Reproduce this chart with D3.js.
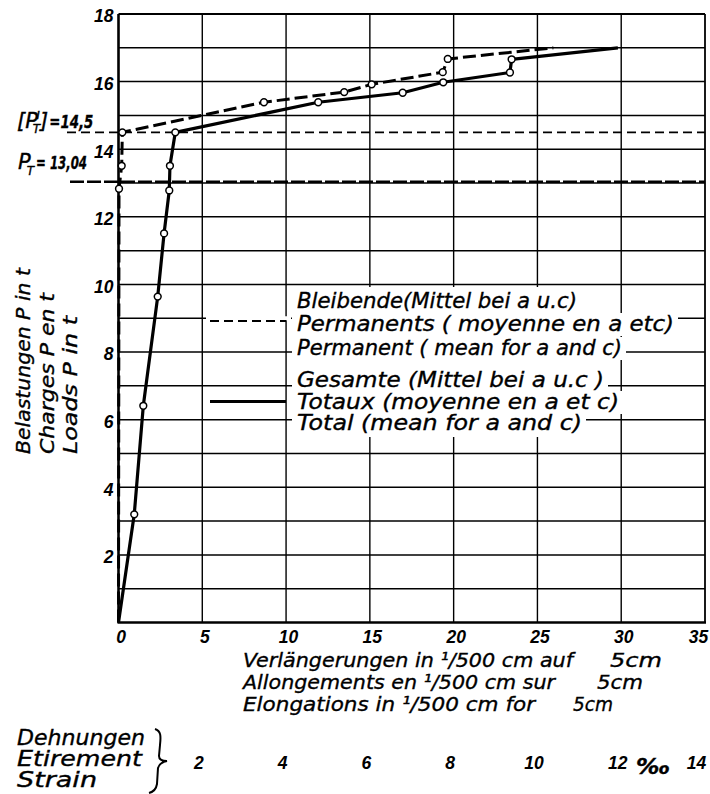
<!DOCTYPE html>
<html>
<head>
<meta charset="utf-8">
<script src="https://cdn.jsdelivr.net/npm/d3@7"></script>
<style>
  body { margin: 0; background: #fff; }
  svg { display: block; }
  .lbl { font-family: "DejaVu Sans", sans-serif; font-style: italic; fill: #000; stroke: #000; stroke-width: 0.35px; }
</style>
</head>
<body>
<script>
//chart values
var xTicks = [0, 5, 10, 15, 20, 25, 30, 35];
var yTicks = [2, 4, 6, 8, 10, 12, 14, 16, 18];
var yGrid = d3.range(1, 18);
var strainTicks = [2, 4, 6, 8, 10, 12, 14];

//total elongations (solid)
var totalX = [0, 0.94, 1.48, 2.34, 2.72, 3.03, 3.07, 3.39, 11.92, 16.96, 19.38, 23.36, 23.46, 29.8];
var totalP = [0, 3.2, 6.41, 9.64, 11.51, 12.78, 13.51, 14.5, 15.39, 15.67, 15.98, 16.27, 16.66, 17.0];

//permanent elongations (dashed)
var permX = [0, 0.03, 0.19, 0.23, 8.68, 13.47, 15.11, 19.35, 19.65, 25.95];
var permP = [0, 12.83, 13.51, 14.5, 15.39, 15.69, 15.92, 16.28, 16.67, 17.0];

//reference loads
var limitP = [14.5, 13.04];

var legendLines = [
    "Bleibende(Mittel bei a u.c)",
    "Permanents ( moyenne  en a etc)",
    "Permanent ( mean for a and c)",
    "Gesamte (Mittel bei a u.c )",
    "Totaux (moyenne en a et c)",
    "Total (mean for a and c)"
];
var xTitleLines = [
    "Verlängerungen in ¹/500 cm auf",
    "Allongements en ¹/500 cm sur",
    "Elongations in ¹/500 cm for"
];
var yTitleLines = ["Belastungen P in t", "Charges P en t", "Loads P in t"];
var strainTitleLines = ["Dehnungen", "Etirement", "Strain"];

window.onload = drawChart();

//bold italic numerals like the drawing
function styleTicks(sel){
    sel.style("font-family", "'Liberation Sans', sans-serif")
        .style("font-weight", "bold")
        .style("font-style", "italic")
        .style("font-size", "17.5px")
        .style("fill", "#000");
}

function drawChart(){
    var width = 710,
        height = 794;

    var svg = d3.select("body")
        .append("svg")
        .attr("width", width)
        .attr("height", height);

    var x = d3.scaleLinear().domain([0, 35]).range([118.5, 705]);
    var y = d3.scaleLinear().domain([0, 18]).range([622.5, 14]);

    //grid lines
    svg.selectAll(".hgrid")
        .data(yGrid)
        .enter()
        .append("line")
        .attr("x1", x(0)).attr("x2", x(35))
        .attr("y1", function(d){ return y(d); })
        .attr("y2", function(d){ return y(d); })
        .attr("stroke", "#000").attr("stroke-width", 1.5);

    svg.selectAll(".vgrid")
        .data(xTicks.slice(1, -1))
        .enter()
        .append("line")
        .attr("y1", y(0)).attr("y2", y(18))
        .attr("x1", function(d){ return x(d); })
        .attr("x2", function(d){ return x(d); })
        .attr("stroke", "#000").attr("stroke-width", 1.4);

    //reference loads, dashed
    svg.append("line")
        .attr("x1", 67).attr("x2", x(35))
        .attr("y1", y(limitP[0])).attr("y2", y(limitP[0]))
        .attr("stroke", "#000").attr("stroke-width", 1.8)
        .attr("stroke-dasharray", "9,5");
    svg.append("line")
        .attr("x1", 70).attr("x2", x(35))
        .attr("y1", y(limitP[1])).attr("y2", y(limitP[1]))
        .attr("stroke", "#000").attr("stroke-width", 2.6)
        .attr("stroke-dasharray", "14,3");

    //legend: white patches hide the grid behind the words
    svg.append("rect").attr("x", 292).attr("y", 287).attr("width", 256).attr("height", 150).attr("fill", "#fff");
    var rowBase = [308, 331, 355, 387, 409, 430];
    var rowLen = [280, 377, 325, 307, 322, 285];
    svg.selectAll(".legbg")
        .data(legendLines)
        .enter()
        .append("rect")
        .attr("x", 292)
        .attr("y", function(d, i){ return rowBase[i] - 18; })
        .attr("width", function(d, i){ return rowLen[i] + 9; })
        .attr("height", function(d, i){ return i == 0 || i == 3 ? 24 : 23; })
        .attr("fill", "#fff");
    svg.selectAll(".legtext")
        .data(legendLines)
        .enter()
        .append("text")
        .attr("class", "lbl")
        .attr("x", 297)
        .attr("y", function(d, i){ return rowBase[i]; })
        .attr("font-size", 20.5)
        .attr("textLength", function(d, i){ return rowLen[i]; })
        .attr("lengthAdjust", "spacingAndGlyphs")
        .text(function(d){ return d; });

    //legend samples
    svg.append("line").attr("x1", 206).attr("x2", 291).attr("y1", y(9)).attr("y2", y(9))
        .attr("stroke", "#fff").attr("stroke-width", 4);
    svg.append("line").attr("x1", 210).attr("x2", 286).attr("y1", 321).attr("y2", 321)
        .attr("stroke", "#000").attr("stroke-width", 2.2).attr("stroke-dasharray", "9,5");
    svg.append("line").attr("x1", 210).attr("x2", 286).attr("y1", 401.5).attr("y2", 401.5)
        .attr("stroke", "#000").attr("stroke-width", 3);

    //curves
    var line = d3.line()
        .x(function(d){ return x(d[0]); })
        .y(function(d){ return y(d[1]); });

    var total = d3.zip(totalX, totalP),
        perm = d3.zip(permX, permP);

    svg.append("path")
        .datum(perm)
        .attr("d", line)
        .attr("fill", "none").attr("stroke", "#000").attr("stroke-width", 3)
        .attr("stroke-dasharray", "13,5");
    svg.append("path")
        .datum(total)
        .attr("d", line)
        .attr("fill", "none").attr("stroke", "#000").attr("stroke-width", 3.2)
        .attr("stroke-linejoin", "round");

    //frame
    svg.append("line").attr("x1", x(0)).attr("x2", x(35)).attr("y1", y(18)).attr("y2", y(18))
        .attr("stroke", "#000").attr("stroke-width", 2.2);
    svg.append("line").attr("x1", x(35)).attr("x2", x(35)).attr("y1", y(18)).attr("y2", y(0))
        .attr("stroke", "#000").attr("stroke-width", 1.8);
    svg.append("line").attr("x1", x(0)).attr("x2", x(0)).attr("y1", y(18)).attr("y2", y(0))
        .attr("stroke", "#000").attr("stroke-width", 2.6);
    svg.append("line").attr("x1", x(0) - 1).attr("x2", x(35) + 1).attr("y1", y(0)).attr("y2", y(0))
        .attr("stroke", "#000").attr("stroke-width", 2.6);

    //measured points
    var marks = total.slice(1, -1).concat(perm.slice(1, -1));
    svg.selectAll(".pt")
        .data(marks)
        .enter()
        .append("circle")
        .attr("cx", function(d){ return x(d[0]); })
        .attr("cy", function(d){ return y(d[1]); })
        .attr("r", 3.4)
        .attr("fill", "#fff").attr("stroke", "#000").attr("stroke-width", 1.5);

    //axes (labels only)
    svg.append("g")
        .attr("transform", "translate(" + x(0) + ",0)")
        .call(d3.axisLeft(y).tickValues(yTicks).tickSize(0).tickPadding(5).tickFormat(d3.format("d")))
        .call(function(g){ g.select(".domain").remove(); })
        .selectAll("text").attr("dy", "0.45em").call(styleTicks);

    svg.append("g")
        .attr("transform", "translate(2," + y(0) + ")")
        .call(d3.axisBottom(x).tickValues(xTicks).tickSize(0).tickPadding(8).tickFormat(d3.format("d")))
        .call(function(g){ g.select(".domain").remove(); })
        .selectAll("text").call(styleTicks)
        .filter(function(d){ return d == 35; }).attr("dx", -9);

    //strain scale: 1/500 cm on 5 cm = 0.4 per mille
    svg.append("g")
        .attr("transform", "translate(-4,757)")
        .call(d3.axisBottom(x.copy().domain([0, 14])).tickValues(strainTicks).tickSize(0).tickPadding(0).tickFormat(d3.format("d")))
        .call(function(g){ g.select(".domain").remove(); })
        .selectAll("text").call(styleTicks)
        .filter(function(d){ return d == 14; }).attr("dx", -5);
    svg.append("text").attr("class", "lbl")
        .attr("x", 636).attr("y", 774).attr("font-size", 21).attr("font-weight", "bold")
        .attr("textLength", 34).attr("lengthAdjust", "spacingAndGlyphs")
        .text("‰");

    //axis titles
    svg.selectAll(".ytitle")
        .data(yTitleLines)
        .enter()
        .append("text")
        .attr("class", "lbl")
        .attr("font-size", 19.5)
        .attr("transform", function(d, i){ return "translate(" + (30 + i * 23.5) + ",454) rotate(-90)"; })
        .attr("textLength", function(d, i){ return [186, 161, 138][i]; })
        .attr("lengthAdjust", "spacingAndGlyphs")
        .text(function(d){ return d; });

    svg.selectAll(".xtitle")
        .data(xTitleLines)
        .enter()
        .append("text")
        .attr("class", "lbl")
        .attr("x", 243)
        .attr("y", function(d, i){ return 667 + i * 22; })
        .attr("font-size", 20)
        .attr("textLength", function(d, i){ return [330, 312, 292][i]; })
        .attr("lengthAdjust", "spacingAndGlyphs")
        .text(function(d){ return d; });
    svg.selectAll(".xunit")
        .data(xTitleLines)
        .enter()
        .append("text")
        .attr("class", "lbl")
        .attr("x", function(d, i){ return [610, 597, 573][i]; })
        .attr("y", function(d, i){ return 667 + i * 22; })
        .attr("font-size", 20)
        .attr("textLength", function(d, i){ return [52, 46, 40][i]; })
        .attr("lengthAdjust", "spacingAndGlyphs")
        .text("5cm");

    svg.selectAll(".stitle")
        .data(strainTitleLines)
        .enter()
        .append("text")
        .attr("class", "lbl")
        .attr("x", 17)
        .attr("y", function(d, i){ return 745 + i * 21; })
        .attr("font-size", 21)
        .attr("textLength", function(d, i){ return [128, 125, 80][i]; })
        .attr("lengthAdjust", "spacingAndGlyphs")
        .text(function(d){ return d; });
    svg.append("path")
        .attr("d", "M155,729 C161,731 161,736 160,745 L159,756 C159,759 162,761 167,761 C162,762 159,764 158,768 L157,784 C156,790 153,792 149,793")
        .attr("fill", "none").attr("stroke", "#000").attr("stroke-width", 2);

    //limit labels
    var l1 = svg.append("text").attr("class", "lbl").attr("x", 17).attr("y", 128).attr("font-size", 21);
    l1.append("tspan").text("[P");
    l1.append("tspan").attr("font-size", 12).attr("dx", -5).attr("dy", 5).text("T");
    l1.append("tspan").attr("font-size", 14).attr("dx", -4).attr("dy", -14).text("ı");
    l1.append("tspan").attr("dx", 0).attr("dy", 9).text("]");
    l1.append("tspan").attr("font-size", 17).attr("font-weight", "bold").attr("dx", 1)
        .attr("textLength", 44).attr("lengthAdjust", "spacingAndGlyphs").text("=14,5");

    var l2 = svg.append("text").attr("class", "lbl").attr("x", 18).attr("y", 169).attr("font-size", 21);
    l2.append("tspan").text("P");
    l2.append("tspan").attr("font-size", 12).attr("dx", -4).attr("dy", 6).text("T");
    l2.append("tspan").attr("font-size", 17).attr("font-weight", "bold").attr("dx", 2).attr("dy", -6)
        .attr("textLength", 51).attr("lengthAdjust", "spacingAndGlyphs").text("= 13,04");
};
</script>
</body>
</html>
